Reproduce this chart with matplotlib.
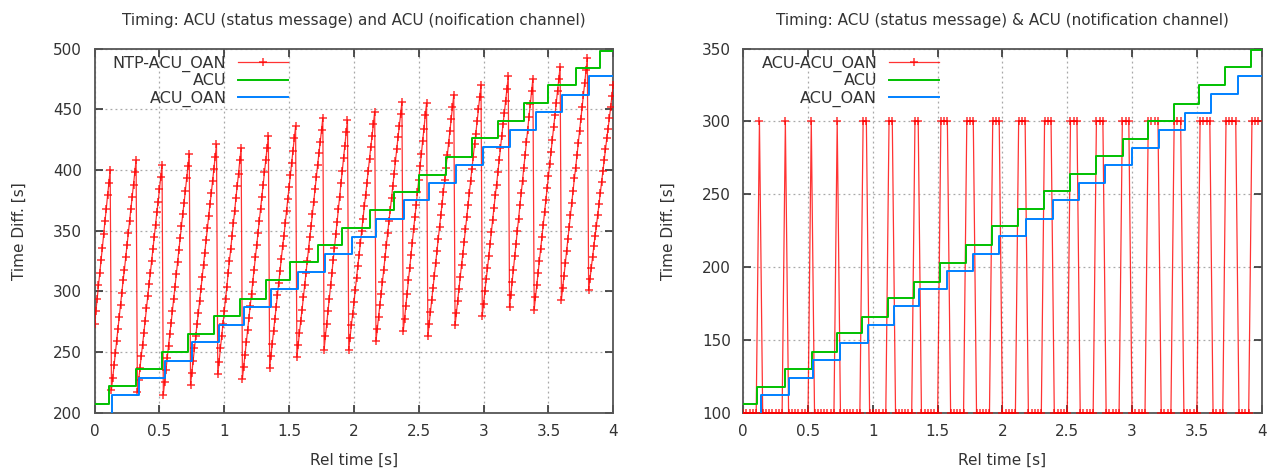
import numpy as np
import matplotlib
matplotlib.use("Agg")
import matplotlib.pyplot as plt

# ---------------- data: left panel ----------------
left_title = "Timing: ACU (status message) and ACU (noification channel)"
right_title = "Timing: ACU (status message) & ACU (notification channel)"
x_label = "Rel time [s]"
y_label = "Time Diff. [s]"

# NTP-ACU_OAN samples (one list per saw tooth), sampled every 0.01 s from t=0
red_left_dt = 0.01
red_left_teeth = [
    [273, 284, 294, 305, 315, 326, 336, 347, 358, 368, 379, 389, 400],
    [219, 229, 239, 249, 259, 269, 279, 289, 299, 309, 318, 328, 338, 348, 358, 368, 378, 388, 398, 408],
    [217, 227, 237, 247, 256, 266, 276, 286, 296, 306, 315, 325, 335, 345, 355, 365, 374, 384, 394, 404],
    [215, 225, 235, 245, 255, 265, 274, 284, 294, 304, 314, 324, 334, 344, 354, 364, 373, 383, 393, 403, 413],
    [223, 233, 243, 253, 263, 273, 282, 292, 302, 312, 322, 332, 342, 352, 362, 372, 381, 391, 401, 411, 421],
    [232, 242, 253, 263, 273, 284, 294, 304, 315, 325, 335, 346, 356, 366, 377, 387, 397, 408, 418],
    [228, 238, 248, 258, 268, 278, 288, 298, 308, 318, 328, 338, 348, 358, 368, 378, 388, 398, 408, 418, 428],
    [237, 247, 257, 267, 277, 287, 297, 307, 317, 327, 337, 346, 356, 366, 376, 386, 396, 406, 416, 426, 436],
    [246, 256, 266, 276, 285, 295, 305, 315, 325, 335, 345, 354, 364, 374, 384, 394, 404, 414, 423, 433, 443],
    [252, 263, 273, 284, 294, 305, 315, 326, 336, 347, 357, 368, 378, 389, 399, 410, 420, 431, 441],
    [252, 262, 272, 281, 291, 301, 311, 321, 330, 340, 350, 360, 370, 379, 389, 399, 409, 419, 428, 438, 448],
    [259, 269, 279, 289, 298, 308, 318, 328, 338, 348, 358, 367, 377, 387, 397, 407, 417, 427, 436, 446, 456],
    [267, 277, 288, 298, 309, 319, 330, 340, 351, 361, 371, 382, 392, 403, 413, 424, 434, 445, 455],
    [263, 273, 283, 293, 303, 313, 323, 333, 343, 353, 363, 372, 382, 392, 402, 412, 422, 432, 442, 452, 462],
    [272, 282, 292, 302, 312, 322, 331, 341, 351, 361, 371, 381, 391, 401, 411, 421, 430, 440, 450, 460, 470],
    [280, 290, 300, 310, 319, 329, 339, 349, 359, 369, 379, 388, 398, 408, 418, 428, 438, 447, 457, 467, 477],
    [287, 297, 308, 318, 329, 339, 350, 360, 371, 381, 391, 402, 412, 423, 433, 444, 454, 465, 475],
    [285, 295, 305, 315, 325, 335, 345, 355, 365, 375, 385, 395, 405, 415, 425, 435, 445, 455, 465, 475, 485],
    [293, 303, 313, 323, 333, 343, 353, 363, 373, 383, 393, 402, 412, 422, 432, 442, 452, 462, 472, 482, 492],
    [301, 310, 319, 328, 337, 346, 354, 363, 372, 381, 390, 399, 408, 417, 426, 434, 443, 452, 461, 470],
]

# ACU (green) step changes
green_left_t = [0, 0.11, 0.32, 0.52, 0.72, 0.92, 1.12, 1.32, 1.51, 1.72, 1.91,
                2.12, 2.31, 2.50, 2.71, 2.91, 3.11, 3.31, 3.50, 3.71, 3.90]
green_left_y = [207, 222, 236, 250, 265, 280, 294, 309, 324, 338, 352,
                367, 382, 396, 411, 426, 440, 455, 470, 484, 498]
# ACU_OAN (blue) step changes
blue_left_t = [0, 0.136, 0.346, 0.546, 0.751, 0.956, 1.149, 1.359, 1.572, 1.777,
               1.982, 2.172, 2.385, 2.582, 2.787, 2.995, 3.205, 3.402, 3.608, 3.813]
blue_left_y = [195, 215, 229, 243, 258, 272, 287, 302, 316, 331,
               345, 360, 375, 389, 404, 419, 433, 448, 462, 477]

# ---------------- data: right panel ----------------
# ACU-ACU_OAN samples every 0.025 s from t=0 (rows of 0.2 s)
red_right_dt = 0.025
red_right_vals = [
    [100, 100, 100, 100, 100, 300, 100, 100],
    [100, 100, 100, 100, 100, 300, 100, 100],
    [100, 100, 100, 100, 100, 300, 100, 100],
    [100, 100, 100, 100, 100, 300, 100, 100],
    [100, 100, 100, 100, 100, 300, 300, 100],
    [100, 100, 100, 100, 100, 300, 300, 100],
    [100, 100, 100, 100, 100, 300, 300, 100],
    [100, 100, 100, 100, 100, 300, 300, 300],
    [100, 100, 100, 100, 100, 300, 300, 300],
    [100, 100, 100, 100, 100, 300, 300, 300],
    [100, 100, 100, 100, 100, 300, 300, 300],
    [100, 100, 100, 100, 100, 300, 300, 300],
    [100, 100, 100, 100, 100, 300, 300, 300],
    [100, 100, 100, 100, 100, 300, 300, 300],
    [100, 100, 100, 100, 100, 300, 300, 300],
    [100, 100, 100, 100, 100, 300, 300, 300],
    [300, 100, 100, 100, 100, 300, 300, 300],
    [100, 100, 100, 100, 100, 300, 300, 300],
    [300, 100, 100, 100, 100, 300, 300, 300],
    [300, 100, 100, 100, 100, 300, 300, 300],
]
green_right_t = [0, 0.11, 0.32, 0.53, 0.72, 0.92, 1.12, 1.32, 1.52, 1.72, 1.92,
                 2.12, 2.32, 2.52, 2.72, 2.93, 3.12, 3.32, 3.52, 3.72, 3.92]
green_right_y = [106, 118, 130, 142, 155, 166, 179, 190, 203, 215, 228,
                 240, 252, 264, 276, 288, 300, 312, 325, 337, 349]
blue_right_t = [0, 0.14, 0.35, 0.54, 0.75, 0.96, 1.16, 1.36, 1.57, 1.77,
                1.97, 2.18, 2.39, 2.59, 2.79, 3.0, 3.21, 3.41, 3.61, 3.82]
blue_right_y = [95, 112, 124, 136, 148, 160, 173, 185, 197, 209,
                221, 233, 246, 258, 270, 282, 294, 306, 319, 331]

x_ticks = [0, 0.5, 1, 1.5, 2, 2.5, 3, 3.5, 4]
x_tick_labels = ["0", "0.5", "1", "1.5", "2", "2.5", "3", "3.5", "4"]
left_y_ticks = [200, 250, 300, 350, 400, 450, 500]
right_y_ticks = [100, 150, 200, 250, 300, 350]

# ---------------- styling ----------------
RED = "#ff0000"
GREEN = "#00c000"
BLUE = "#0080ff"
TXT = "#333333"
FRAME = "#555555"
XMAX = 4.0
FS = 11

plt.rcParams["font.family"] = ["DejaVu Sans"]
plt.rcParams["font.size"] = FS

fig = plt.figure(figsize=(12.81, 4.71), dpi=100)
axL = fig.add_axes([0.07385, 0.1236, 0.4049, 0.7734])
axR = fig.add_axes([0.5802, 0.1236, 0.4047, 0.7734])


def style(ax, yticks, title):
    ax.set_xlim(0, XMAX)
    ax.set_ylim(yticks[0], yticks[-1])
    ax.set_xticks(x_ticks)
    ax.set_xticklabels(x_tick_labels)
    ax.set_yticks(yticks)
    ax.set_yticklabels([str(v) for v in yticks])
    ax.grid(True, color="#a8a8a8", linestyle=(0, (1.5, 2.5)), linewidth=0.9)
    ax.set_axisbelow(True)
    ax.tick_params(direction="in", length=6, width=1.2, color="#333333",
                   top=True, right=True, labelcolor=TXT, labelsize=FS)
    ax.tick_params(axis="y", pad=9)
    ax.tick_params(axis="x", pad=8)
    for s in ax.spines.values():
        s.set_color(FRAME)
        s.set_linewidth(1.3)
    ax.set_title(title, color=TXT, fontsize=FS, pad=17)
    ax.set_xlabel(x_label, color=TXT, fontsize=FS, labelpad=10)
    ax.set_ylabel(y_label, color=TXT, fontsize=FS, labelpad=19)


def step_xy(t, y):
    return np.append(t, XMAX), np.append(y, y[-1])


# left panel
red_left_y = np.concatenate([np.asarray(v, float) for v in red_left_teeth])
red_left_t = np.arange(len(red_left_y)) * red_left_dt
axL.plot(red_left_t, red_left_y, color=RED, lw=0.9, alpha=0.8, marker="+",
         ms=6, mew=1.1, mec=RED, label="NTP-ACU_OAN", zorder=3)
gx, gy = step_xy(green_left_t, green_left_y)
axL.step(gx, gy, where="post", color=GREEN, lw=1.4, label="ACU", zorder=4)
bx, by = step_xy(blue_left_t, blue_left_y)
axL.step(bx, by, where="post", color=BLUE, lw=1.4, label="ACU_OAN", zorder=5)
style(axL, left_y_ticks, left_title)

# right panel
red_right_y = np.concatenate([np.asarray(v, float) for v in red_right_vals])
red_right_t = np.arange(len(red_right_y)) * red_right_dt
axR.plot(red_right_t, red_right_y, color=RED, lw=0.9, alpha=0.8, marker="+",
         ms=6, mew=1.1, mec=RED, label="ACU-ACU_OAN", zorder=3)
gx, gy = step_xy(green_right_t, green_right_y)
axR.step(gx, gy, where="post", color=GREEN, lw=1.4, label="ACU", zorder=4)
bx, by = step_xy(blue_right_t, blue_right_y)
axR.step(bx, by, where="post", color=BLUE, lw=1.4, label="ACU_OAN", zorder=5)
style(axR, right_y_ticks, right_title)

for ax in (axL, axR):
    leg = ax.legend(loc="upper left", bbox_to_anchor=(0.0135, 1.012), frameon=False,
                    markerfirst=False, fontsize=11.5, handlelength=3.1,
                    handletextpad=0.75, labelspacing=0.12, borderaxespad=0.3,
                    borderpad=0.4)
    for t in leg.get_texts():
        t.set_color(TXT)
    leg.set_zorder(10)

fig.savefig("out.png", dpi=100, facecolor="white")
